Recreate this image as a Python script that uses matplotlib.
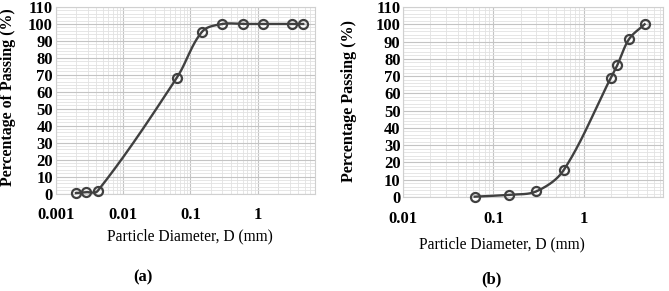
import numpy as np
import matplotlib
matplotlib.use("Agg")
import matplotlib.pyplot as plt
from matplotlib.ticker import FixedLocator, NullFormatter, MultipleLocator

plt.rcParams['font.family'] = ['Liberation Serif', 'DejaVu Serif']

# ---- data ----
d_a = [0.002, 0.0028, 0.0042, 0.063, 0.15, 0.3, 0.6, 1.18, 3.2, 4.75]
p_a = [0.3, 0.8, 1.5, 68.3, 95.5, 100, 100, 100, 100, 100]

d_b = [0.062, 0.15, 0.3, 0.6, 2.0, 2.36, 3.2, 4.75]
p_b = [0.2, 1.3, 3.3, 15.5, 68.9, 76.2, 91.5, 100]

xticks_a = [0.001, 0.01, 0.1, 1]
xticklabels_a = ['0.001', '0.01', '0.1', '1']
xticks_b = [0.01, 0.1, 1]
xticklabels_b = ['0.01', '0.1', '1']
yticks = list(range(0, 111, 10))

ylabel_a = 'Percentage of Passing (%)'
ylabel_b = 'Percentage Passing (%)'
xlabel = 'Particle Diameter, D (mm)'
panel_a = '(a)'
panel_b = '(b)'

W, H = 669, 291
fig = plt.figure(figsize=(W / 100, H / 100), dpi=100)

def box(l, r, b, t):
    return [l / W, 1 - b / H, (r - l) / W, (b - t) / H]

ax_a = fig.add_axes(box(55.7, 315, 193.5, 7))
ax_b = fig.add_axes(box(403.3, 663, 197, 7))

LINE = '#404040'

def style(ax, xlim, xt, xtl):
    ax.set_xscale('log')
    ax.set_xlim(*xlim)
    ax.set_ylim(0, 110)
    ax.xaxis.set_major_locator(FixedLocator(xt))
    ax.set_xticklabels(xtl)
    ax.xaxis.set_minor_locator(FixedLocator(
        [m * 10.0 ** e for e in range(-4, 2) for m in range(2, 10)]))
    ax.xaxis.set_minor_formatter(NullFormatter())
    ax.set_yticks(yticks)
    ax.yaxis.set_minor_locator(MultipleLocator(2))
    ax.grid(which='major', color='#c4c4c4', lw=0.8)
    ax.grid(which='minor', color='#e2e2e2', lw=0.6)
    ax.set_axisbelow(True)
    ax.tick_params(which='both', length=0)
    ax.tick_params(axis='x', pad=10)
    ax.tick_params(axis='y', pad=2)
    for lab in ax.get_xticklabels() + ax.get_yticklabels():
        lab.set_fontsize(12)
        lab.set_fontweight('bold')
    for s in ax.spines.values():
        s.set_color('#d0d0d0')
        s.set_linewidth(0.8)

def unit(v):
    n = np.hypot(*v)
    return v / n if n > 0 else v

def smooth_plot(ax, x, y, n=40):
    pts = ax.transData.transform(np.column_stack([x, y]))
    P = np.vstack([pts[0], pts, pts[-1]])
    out = []
    for i in range(1, len(P) - 2):
        p0, p1, p2, p3 = P[i - 1], P[i], P[i + 1], P[i + 2]
        L = np.hypot(*(p2 - p1)) / 3.0
        c1 = p1 + unit(p2 - p0) * L
        c2 = p2 - unit(p3 - p1) * L
        t = np.linspace(0, 1, n)[:, None]
        seg = ((1 - t) ** 3) * p1 + 3 * ((1 - t) ** 2) * t * c1 + 3 * (1 - t) * t ** 2 * c2 + t ** 3 * p2
        out.append(seg)
    curve = np.vstack(out)
    data = ax.transData.inverted().transform(curve)
    ax.plot(data[:, 0], data[:, 1], color=LINE, lw=1.7, zorder=3, clip_on=False)
    ax.plot(x, y, 'o', ms=6.5, mfc='none', mec=LINE, mew=1.6, zorder=4, clip_on=False)

style(ax_a, (0.001, 7.1), xticks_a, xticklabels_a)
style(ax_b, (0.01, 7.6), xticks_b, xticklabels_b)

smooth_plot(ax_a, d_a, p_a)
smooth_plot(ax_b, d_b, p_b)

fig.text(8 / W, 1 - 97 / H, ylabel_a, rotation=90, ha='center', va='center',
         fontsize=11.4, fontweight='bold')
fig.text(349 / W, 1 - 101 / H, ylabel_b, rotation=90, ha='center', va='center',
         fontsize=11.6, fontweight='bold')
fig.text(189.5 / W, 1 - 236 / H, xlabel, ha='center', va='center', fontsize=11.2)
fig.text(501.7 / W, 1 - 244 / H, xlabel, ha='center', va='center', fontsize=11.2)
fig.text(143.3 / W, 1 - 277 / H, panel_a, ha='center', va='center', fontsize=12,
         fontweight='bold')
fig.text(491.7 / W, 1 - 279 / H, panel_b, ha='center', va='center', fontsize=12,
         fontweight='bold')

fig.savefig('out.png', dpi=100)
